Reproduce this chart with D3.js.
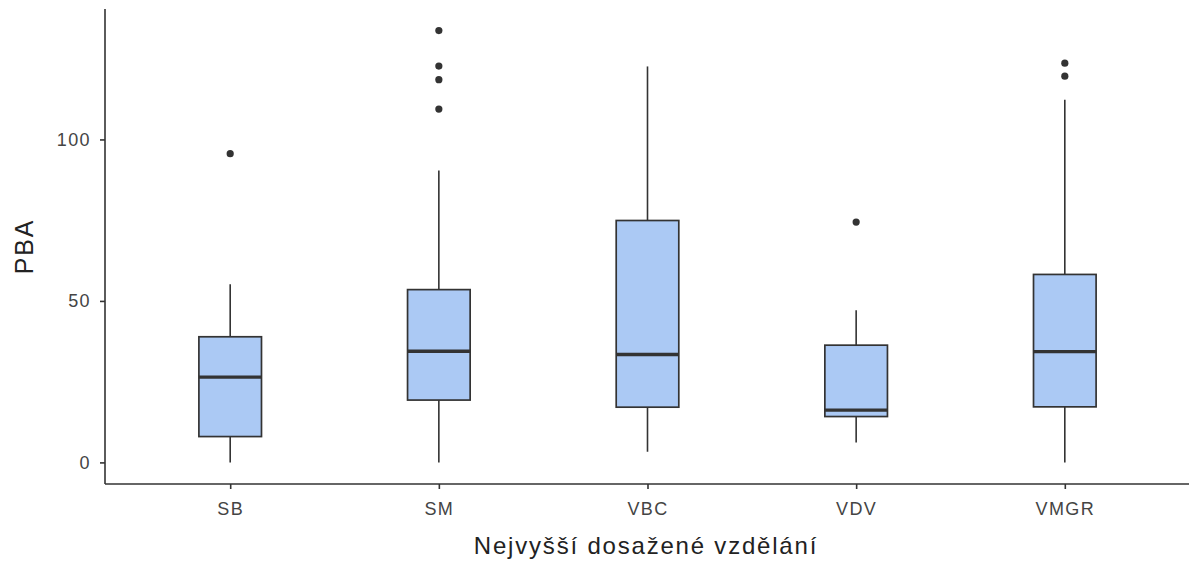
<!DOCTYPE html>
<html>
<head>
<meta charset="utf-8">
<script src="https://cdn.jsdelivr.net/npm/d3@7/dist/d3.min.js"></script>
<style>
  html, body { margin: 0; padding: 0; background: #fff; }
  svg { display: block; }
  text { font-family: "Liberation Sans", Arial, Helvetica, sans-serif; }
</style>
</head>
<body>
<svg id="chart" width="1189" height="567"></svg>
<script>
// Education levels (x categories)
const categories = ["SB", "SM", "VBC", "VDV", "VMGR"];
// Box summary per category: lower whisker, Q1, median, Q3, upper whisker
const whiskerLow  = [0, 0, 3.3, 6.2, 0];
const q1          = [8, 19.3, 17.1, 14.2, 17.2];
const medians     = [26.4, 34.4, 33.4, 16.2, 34.3];
const q3          = [38.9, 53.5, 74.9, 36.3, 58.2];
const whiskerHigh = [55.2, 90.4, 122.6, 47.1, 112.3];
// Outlying observations per category
const outliers = [
  [95.6],
  [133.7, 122.7, 118.5, 109.4],
  [],
  [74.4],
  [123.6, 119.6]
];
const yTicks = [0, 50, 100];
const xTitle = "Nejvyšší dosažené vzdělání";
const yTitle = "PBA";

const svg = d3.select("#chart");
const plotLeft = 105, plotRight = 1190, plotTop = 9, plotBottom = 484;

// y domain: data range padded by 5% on each side
const allVals = whiskerLow.concat(whiskerHigh, outliers.flat());
const [vMin, vMax] = d3.extent(allVals);
const pad = (vMax - vMin) * 0.05;

const x = d3.scalePoint().domain(categories).range([plotLeft, plotRight]).padding(0.6);
const y = d3.scaleLinear().domain([vMin - pad, vMax + pad]).range([plotBottom, plotTop]);
const boxW = x.step() * 0.3;

const ink = "#333333";
const fill = "#abc9f4";

const data = categories.map((c, i) => ({
  c, lo: whiskerLow[i], q1: q1[i], med: medians[i], q3: q3[i], hi: whiskerHigh[i], out: outliers[i]
}));

const g = svg.append("g");
const box = g.selectAll("g.box").data(data).join("g").attr("class", "box");

// whiskers
box.append("line")
  .attr("x1", d => x(d.c)).attr("x2", d => x(d.c))
  .attr("y1", d => y(d.q3)).attr("y2", d => y(d.hi))
  .attr("stroke", ink).attr("stroke-width", 1.6);
box.append("line")
  .attr("x1", d => x(d.c)).attr("x2", d => x(d.c))
  .attr("y1", d => y(d.q1)).attr("y2", d => y(d.lo))
  .attr("stroke", ink).attr("stroke-width", 1.6);

// boxes
box.append("rect")
  .attr("x", d => x(d.c) - boxW / 2).attr("width", boxW)
  .attr("y", d => y(d.q3)).attr("height", d => y(d.q1) - y(d.q3))
  .attr("fill", fill).attr("stroke", ink).attr("stroke-width", 1.7);

// medians
box.append("line")
  .attr("x1", d => x(d.c) - boxW / 2).attr("x2", d => x(d.c) + boxW / 2)
  .attr("y1", d => y(d.med)).attr("y2", d => y(d.med))
  .attr("stroke", ink).attr("stroke-width", 3.4);

// outliers
box.selectAll("circle").data(d => d.out.map(v => ({ c: d.c, v }))).join("circle")
  .attr("cx", d => x(d.c)).attr("cy", d => y(d.v)).attr("r", 3.6)
  .attr("fill", ink);

// axes
const yAxis = svg.append("g").attr("transform", `translate(${plotLeft},0)`)
  .call(d3.axisLeft(y).tickValues(yTicks).tickSize(5).tickPadding(9));
yAxis.select(".domain").attr("d", `M0,${plotTop}V${plotBottom}`);
const xAxis = svg.append("g").attr("transform", `translate(0,${plotBottom})`)
  .call(d3.axisBottom(x).tickSize(5).tickPadding(13));
xAxis.select(".domain").attr("d", `M${plotLeft},0H${plotRight}`);

[yAxis, xAxis].forEach(a => {
  a.select(".domain").attr("stroke", ink).attr("stroke-width", 1.6);
  a.selectAll(".tick line").attr("stroke", ink).attr("stroke-width", 1.6);
  a.selectAll(".tick text").attr("fill", "#444").attr("font-size", 18)
    .attr("letter-spacing", 1.4)
    .style("font-family", "'Liberation Sans', Arial, sans-serif");
});

// titles
svg.append("text")
  .attr("x", 646).attr("y", 554)
  .attr("text-anchor", "middle").attr("font-size", 24).attr("letter-spacing", 1.8)
  .attr("fill", "#222")
  .text(xTitle);
svg.append("text")
  .attr("transform", `translate(33,${(plotTop + plotBottom) / 2}) rotate(-90)`)
  .attr("text-anchor", "middle").attr("font-size", 25).attr("letter-spacing", 1.8)
  .attr("fill", "#222")
  .text(yTitle);
</script>
</body>
</html>
